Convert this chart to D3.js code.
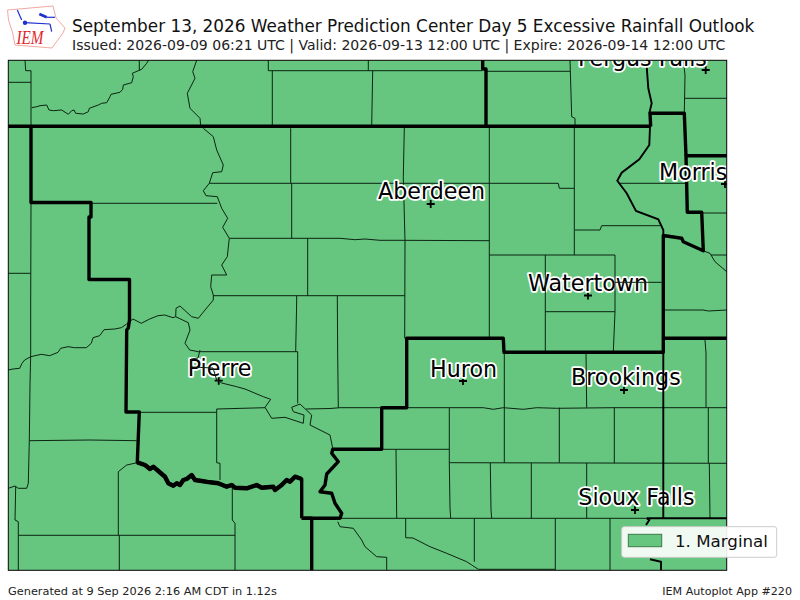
<!DOCTYPE html>
<html><head><meta charset="utf-8">
<script src="https://d3js.org/d3.v7.min.js"></script>
<style>html,body{margin:0;padding:0;background:#fff}svg{display:block}text{font-family:"DejaVu Sans",sans-serif}</style>
</head><body><div id="c"></div>
<script>
const titleText="September 13, 2026 Weather Prediction Center Day 5 Excessive Rainfall Outlook";
const subtitleText="Issued: 2026-09-09 06:21 UTC | Valid: 2026-09-13 12:00 UTC | Expire: 2026-09-14 12:00 UTC";
const footerLeft="Generated at 9 Sep 2026 2:16 AM CDT in 1.12s";
const footerRight="IEM Autoplot App #220";
const legendLabel="1. Marginal";
const outlookColor="#66c57f";
const cityNames=["Fergus Falls","Aberdeen","Morris","Watertown","Pierre","Huron","Brookings","Sioux Falls"];
const cityPoints=[[705.7,70],[430.7,204],[725,184],[588,295.5],[218.7,380.7],[463,381],[624,390],[635,510]];
const cityLabelPoints=[[578,65.7],[378,199],[659,180],[528,291],[187.7,376],[430,376.7],[571,384.7],[578.3,505]];
const countyLines=[
[[8,82.3],[31,82.3]],
[[25,60],[25.7,70.7],[31,70.7],[31,126]],
[[31.7,107.7],[36.7,106.7],[40,105.7],[46.7,105],[49,110],[53.3,110.7],[61.7,110],[68.3,114.3],[71.7,110.7],[74,110],[75.7,113.3],[83.3,114],[88.3,111.7],[89.3,108.3],[98.3,105],[101.7,103.3],[106.7,102.7],[110,96.7],[111,94.3],[120,92.3],[122.7,89.3],[123.3,85],[131.7,82.7],[133.3,76.7],[132.3,73.3],[138.3,70.7],[141.7,69.3],[146.7,63.3],[148.7,60]],
[[139.3,60.3],[139.3,70.7]],
[[196.7,60.3],[192.7,71.7],[195,78.3],[187.3,93.3],[190,108.3],[200,118.3],[200.7,126]],
[[268.3,60.3],[268.3,70.7],[482,70.7]],
[[368.3,60.3],[368.3,70.7]],
[[272.3,70.7],[272.3,126]],
[[372.7,70.7],[371.7,126]],
[[486,71.3],[570,71.3]],
[[570,60.3],[571.7,116.7],[575,118.3],[575,126]],
[[683.3,60.3],[685,75],[684.3,113.3]],
[[684.3,98.3],[727,98.3]],
[[203.3,128.3],[213.3,136.7],[216.7,150],[223.3,165],[221.7,171.7],[212.7,172.7],[209.3,183.3],[203.3,190.7],[206,195.7],[217.3,196.7],[221.7,208.3],[227.7,218.3],[222.7,227.3],[229.3,238.3],[227.3,256.7],[221.7,265],[226.7,275],[211.7,275],[210.7,286.7],[213.3,295],[213.3,300],[205,310],[198.3,318.3],[191.7,316.7],[180,306],[176,308.3],[175.7,316.7],[188.3,322.7],[190,330],[185,343.3],[189.7,350],[198.3,351.7]],
[[8,370],[13,369],[19.7,368.3],[22,363.3],[24.7,360],[30.7,356.7],[41.3,354.3],[49.7,355.7],[58,352.3],[60.7,348.3],[68,346.7],[74.7,347.7],[86.3,347.7],[91.3,343.3],[93,337.7],[99.7,335.7],[104,329.7],[114.7,329],[121.3,327.7],[126.3,324.3],[133,319],[141.3,323.3],[149.7,319],[158,315.7],[164.7,315],[173,317.7],[175.7,316.7]],
[[290.7,128.3],[290.7,183.3]],
[[291.7,183.3],[291.7,238.3]],
[[307.7,238.3],[307.7,295.7]],
[[209.3,183.3],[400,183.3],[489.3,183.3],[558.3,183.3],[559.3,188.3],[574.3,188.3]],
[[91.7,203.3],[217.3,203.3]],
[[229.3,238.3],[340,238.3],[355,239.7],[365,239],[380,240.3],[400,240.3],[489.3,240.7]],
[[31,203],[30.7,300],[30.7,355],[30,385],[29.3,440.7]],
[[8,273.3],[30.7,273.3]],
[[213.3,295.7],[405,295.7]],
[[296.7,295.7],[296.7,300],[295.7,351.7]],
[[337.3,295.7],[337.7,355],[338.3,407.7]],
[[404.3,128],[403.3,176.7],[405,240.7],[404.7,338.3]],
[[489.3,128],[489.3,338.3]],
[[574.3,128],[574.3,255]],
[[575,230],[600,230],[601.7,225.7],[660,225.7]],
[[620,183.3],[687,183.3]],
[[489.3,255],[615,255]],
[[615,300],[615,311.7],[613.3,352]],
[[545.3,300],[545.3,352]],
[[545.3,311.7],[615,311.7]],
[[663.3,310],[703,310],[708.3,311],[727,310]],
[[702,213],[727,213]],
[[711,255],[727,255]],
[[703,250.7],[710,253.3],[715,261.7],[726.7,271.7]],
[[705,340],[706,353],[706,407.5]],
[[708.3,407.5],[708.3,463]],
[[709.3,463],[710,518.3]],
[[198.3,351.7],[297.7,351.7]],
[[297.7,351.7],[297.7,403.3]],
[[216.7,409],[265,407.7]],
[[306,409],[330,408.5],[340,407.7],[380,407.7]],
[[139.3,412.3],[216.7,412.3]],
[[216.7,409],[216.7,462.7],[220,463.3],[220,480]],
[[232.3,486.7],[232.3,520],[235,523.3],[235,570]],
[[118.3,471.7],[118.3,535]],
[[118.3,471.7],[126.7,465],[137.3,462.7]],
[[18.3,535.3],[235,535.3]],
[[119.3,535.3],[119.3,570]],
[[15.7,486.7],[15,520],[18.3,521.7],[18.3,570]],
[[29.3,440.7],[90,440],[136.7,440.7]],
[[29.3,440.7],[28.3,483.3],[26.7,488.3],[18.3,488.3],[15,486],[8.3,488.3]],
[[400,407.7],[483.3,407.7],[493.3,409.3],[503.3,407.7],[523.3,409.3],[536.7,407.7],[556.7,408.3],[613,407.7],[727,407.7]],
[[504.3,352.3],[504.3,462.7]],
[[559.3,407.7],[559.3,462.7]],
[[614.3,407.7],[614.3,463.3]],
[[449.3,407.7],[449.3,462.7],[450,508],[450.7,518.3]],
[[382,449.3],[449.3,449.3]],
[[396,449.3],[396.7,518.3]],
[[449.3,462.7],[727,463.3]],
[[490.3,463],[491,510],[491.7,518.3]],
[[531.3,463],[531.3,518.3]],
[[586.7,463],[586.7,518.3]],
[[340,518.3],[646.7,518.3]],
[[405.7,518.3],[405.7,537.7],[413,538],[430,546.7],[446.7,553.3],[466.7,561.7],[478.3,569.3],[555,569.3]],
[[474.3,518.3],[474.3,561.7]],
[[555.3,518.3],[555.3,570]],
[[610,518.3],[610,570]],
[[337.7,521.7],[340,526.7],[353.3,528.3],[361.7,540],[365,546.7],[376.7,556.7],[386.7,557.3],[386.7,570]]
];
const upperCountyLines=[
[[615,255],[615,300]],
[[545.3,255],[545.3,300]],
[[615,282.3],[663,282.3]],
[[586,353],[586.7,407.7]],
[[200,350],[198,358],[191,359],[191.7,367],[213,368],[216.7,380],[221.7,383],[236.7,386.7],[245,389],[263.3,396.7],[270.7,399.3],[265,407.3],[271.7,418.3],[285,417.3],[303.3,423.3],[304,415],[293.3,411.7],[291.7,407.3],[300,404],[311.7,415],[310,425],[330,435],[332.7,448.3]]
];
const mediumLines=[
[[650,126.7],[649.3,145],[639.3,159.3],[621.7,172.7],[617.3,180.7],[626.7,193.3],[636,211],[658.3,219.3],[663.3,230],[663.3,235]],
[[649.3,113.3],[651.7,103.3],[648.3,88.3],[646.7,66.7],[646,60.3]],
[[646.7,518.3],[727,518.3]],
[[646.7,518.3],[649.3,520],[646,525]],
[[650,559.3],[661,561.7],[661,570]]
];
const upperMediumLines=[
[[663.3,352.3],[663.3,518.3]]
];
const wfoLines=[
[[8,126.3],[650.7,126.3]],
[[31,126.3],[31,202.5],[91,202.5],[91,217],[89,217],[89,279.5],[129.5,279.5],[129.5,320],[128.3,328],[126.7,330],[126,412],[139.3,412],[137.3,462.3],[301.7,479],[301.7,518.3]],
[[301.7,518.3],[340,518.3],[341.7,513.3],[335,503.3],[331.7,493.3],[320,491.7],[325,485],[326.7,474],[338.3,461.7],[331.7,453.3],[332.7,449.3],[381.7,449.3],[381.7,407.7],[406.7,407.7],[406.7,338.3],[503.3,338.3],[504,352.3],[663.3,352.3],[663.3,338.3],[727,338.3]],
[[301.7,518.3],[311.7,518.3],[311.7,570.5]],
[[663.3,338.3],[663.3,235.5],[681.7,238.3],[683.3,241.7],[703.3,250.7],[701.7,212.3],[687.3,212.3],[686,155.7],[727,155.7]],
[[686,155.7],[684.3,113.3],[650,113.3],[650.7,126.7]],
[[482.7,60],[482.7,69],[486,69],[486,126.7]]
];
const riverBoundary=[[137.3,462.3],[145,465],[150,469],[153.3,466.7],[158.3,471],[165,476.7],[168.3,483.3],[173.3,485.7],[176.7,483.3],[180,485],[183.3,480],[186.7,479],[191.7,475],[195,480],[201.7,481],[210,482.3],[218.3,483.3],[226.7,486.7],[231.7,485],[235,487.7],[246.7,488.3],[256.7,485],[261.7,487.7],[273.3,486.7],[275,490],[281.7,485],[286.7,480],[290,481.7],[295,476.7],[301.7,479]];
const logoOutline=[[7.5,10],[53,6],[56,18],[65,28],[63,33],[57,41],[52,48],[15,45],[12.7,33],[8.5,20]];
const logoWind=[[[25,22.7],[50,24]],[[50,24],[51.7,31.7]],[[46.7,17.3],[55,17.3]],[[17.3,10],[21.7,20]]];
const logoBarb=[[39.3,14],[46.7,17.3]];
const logoDot=[25,22.7];

const W=800,H=600;
const svg=d3.select("#c").append("svg").attr("width",W).attr("height",H).attr("viewBox",`0 0 ${W} ${H}`);
const x=d3.scaleLinear().domain([8.3,726.7]).range([8.3,726.7]);
const y=d3.scaleLinear().domain([60.3,570.3]).range([60.3,570.3]);
const line=d3.line().x(d=>x(d[0])).y(d=>y(d[1]));
const X0=x(8.3),X1=x(726.7),Y0=y(60.3),Y1=y(570.3);
svg.append("defs").append("clipPath").attr("id","mapclip").append("rect")
  .attr("x",X0).attr("y",Y0).attr("width",X1-X0).attr("height",Y1-Y0);

const lx=d3.scaleLinear().domain([0,80]).range([0,80]);
const lline=d3.line().x(d=>lx(d[0])).y(d=>lx(d[1]));
const logo=svg.append("g");
logo.append("path").attr("d",lline(logoOutline)+"Z").attr("fill","#fff").attr("stroke","#f2a9a0").attr("stroke-width",1);
logo.selectAll(".w").data(logoWind).join("path").attr("d",lline).attr("fill","none").attr("stroke","#1c2fd0").attr("stroke-width",1.2);
logo.append("path").attr("d",lline(logoBarb)).attr("stroke","#1c2fd0").attr("stroke-width",2.6).attr("fill","none");
logo.append("circle").attr("cx",lx(logoDot[0])).attr("cy",lx(logoDot[1])).attr("r",2.2).attr("fill","#1c2fd0");
logo.append("text").attr("x",lx(16.5)).attr("y",lx(44)).attr("textLength",27).attr("lengthAdjust","spacingAndGlyphs")
  .style("font-family","'Liberation Serif',serif").style("font-style","italic").attr("font-size",18).attr("fill","#e0252b").text("IEM");

svg.append("text").attr("x",72).attr("y",32).attr("font-size",16.85).attr("fill","#111").text(titleText);
svg.append("text").attr("x",72).attr("y",50.3).attr("font-size",14.03).attr("fill","#222").text(subtitleText);
svg.append("text").attr("x",8).attr("y",595).attr("font-size",11.32).attr("fill","#222").text(footerLeft);
svg.append("text").attr("x",792).attr("y",595).attr("font-size",11.11).attr("text-anchor","end").attr("fill","#222").text(footerRight);

const map=svg.append("g").attr("clip-path","url(#mapclip)");
map.append("rect").attr("x",X0).attr("y",Y0).attr("width",X1-X0).attr("height",Y1-Y0).attr("fill",outlookColor);
map.selectAll(".county").data(countyLines).join("path").attr("class","county").attr("d",line).attr("fill","none").attr("stroke","#0c2412").attr("stroke-width",1);
map.selectAll(".medium").data(mediumLines).join("path").attr("class","medium").attr("d",line).attr("fill","none").attr("stroke","#000").attr("stroke-width",1.9);
// The thick outline follows the river instead of the straight chord between the two river ends.
const wfoDrawn=wfoLines.map((seg,i)=> i===1 ? seg.slice(0,13).concat(riverBoundary.slice(1)).concat([seg[14]]) : seg);
map.selectAll(".wfo").data(wfoDrawn).join("path").attr("class","wfo").attr("d",line).attr("fill","none").attr("stroke","#000").attr("stroke-width",3.4).attr("stroke-linejoin","round");
map.append("path").attr("class","river").attr("d",line(riverBoundary)).attr("fill","none").attr("stroke","#000").attr("stroke-width",4.4).attr("stroke-linejoin","round");
map.selectAll(".cross").data(cityPoints).join("path").attr("class","cross")
  .attr("d",d=>`M${x(d[0])-4},${y(d[1])}H${x(d[0])+4}M${x(d[0])},${y(d[1])-4}V${y(d[1])+4}`).attr("stroke","#000").attr("stroke-width",1.8);
map.selectAll(".city").data(cityNames).join("text").attr("class","city")
  .attr("x",(d,i)=>x(cityLabelPoints[i][0])).attr("y",(d,i)=>y(cityLabelPoints[i][1]))
  .attr("font-size",22.2).attr("fill","#000").attr("stroke","#fff").attr("stroke-width",3.6).attr("paint-order","stroke").attr("stroke-linejoin","round").text(d=>d);
map.selectAll(".ucounty").data(upperCountyLines).join("path").attr("class","ucounty").attr("d",line).attr("fill","none").attr("stroke","#0c2412").attr("stroke-width",1);
map.selectAll(".umedium").data(upperMediumLines).join("path").attr("class","umedium").attr("d",line).attr("fill","none").attr("stroke","#000").attr("stroke-width",1.9);
svg.append("rect").attr("x",X0).attr("y",Y0).attr("width",X1-X0).attr("height",Y1-Y0).attr("fill","none").attr("stroke","#000").attr("stroke-width",1);

const lg=svg.append("g");
lg.append("rect").attr("x",621.7).attr("y",526.7).attr("width",155).attr("height",30.6).attr("rx",2.5).attr("fill","#fff").attr("fill-opacity",0.9).attr("stroke","#ccc").attr("stroke-width",1);
lg.append("rect").attr("x",628.3).attr("y",534.3).attr("width",33.4).attr("height",12.4).attr("fill",outlookColor).attr("stroke","#3c7a4c").attr("stroke-width",1);
lg.append("text").attr("x",675).attr("y",547).attr("font-size",16.67).attr("fill","#111").text(legendLabel);
</script></body></html>
